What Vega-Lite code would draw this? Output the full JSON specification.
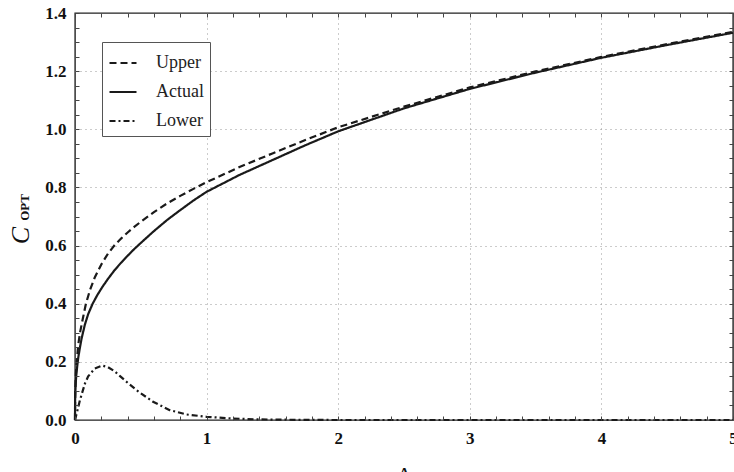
{
  "$schema": "https://vega.github.io/schema/vega-lite/v6.json",
  "width": 658,
  "height": 407,
  "autosize": {"type": "none"},
  "padding": {"left": 75, "top": 13, "right": 1, "bottom": 52},
  "background": "white",
  "config": {"view": {"stroke": "#222", "strokeWidth": 1.4}, "font": "Liberation Serif"},
  "data": {"values": [
    {"lam": 0, "c": 0, "series": "Upper"},
    {"lam": 0.001, "c": 0.07, "series": "Upper"},
    {"lam": 0.003, "c": 0.11, "series": "Upper"},
    {"lam": 0.007, "c": 0.16, "series": "Upper"},
    {"lam": 0.013, "c": 0.20, "series": "Upper"},
    {"lam": 0.025, "c": 0.26, "series": "Upper"},
    {"lam": 0.04, "c": 0.305, "series": "Upper"},
    {"lam": 0.06, "c": 0.35, "series": "Upper"},
    {"lam": 0.083, "c": 0.40, "series": "Upper"},
    {"lam": 0.114, "c": 0.447, "series": "Upper"},
    {"lam": 0.15, "c": 0.49, "series": "Upper"},
    {"lam": 0.2, "c": 0.535, "series": "Upper"},
    {"lam": 0.25, "c": 0.572, "series": "Upper"},
    {"lam": 0.3, "c": 0.601, "series": "Upper"},
    {"lam": 0.35, "c": 0.624, "series": "Upper"},
    {"lam": 0.4, "c": 0.645, "series": "Upper"},
    {"lam": 0.45, "c": 0.664, "series": "Upper"},
    {"lam": 0.5, "c": 0.682, "series": "Upper"},
    {"lam": 0.6, "c": 0.715, "series": "Upper"},
    {"lam": 0.7, "c": 0.745, "series": "Upper"},
    {"lam": 0.8, "c": 0.771, "series": "Upper"},
    {"lam": 0.9, "c": 0.795, "series": "Upper"},
    {"lam": 1, "c": 0.818, "series": "Upper"},
    {"lam": 1.25, "c": 0.87, "series": "Upper"},
    {"lam": 1.5, "c": 0.917, "series": "Upper"},
    {"lam": 1.75, "c": 0.963, "series": "Upper"},
    {"lam": 2, "c": 1.007, "series": "Upper"},
    {"lam": 2.5, "c": 1.078, "series": "Upper"},
    {"lam": 3, "c": 1.144, "series": "Upper"},
    {"lam": 3.5, "c": 1.199, "series": "Upper"},
    {"lam": 4, "c": 1.249, "series": "Upper"},
    {"lam": 4.5, "c": 1.293, "series": "Upper"},
    {"lam": 5, "c": 1.335, "series": "Upper"},
    {"lam": 0, "c": 0, "series": "Actual"},
    {"lam": 0.001, "c": 0.07, "series": "Actual"},
    {"lam": 0.003, "c": 0.10, "series": "Actual"},
    {"lam": 0.006, "c": 0.13, "series": "Actual"},
    {"lam": 0.01, "c": 0.155, "series": "Actual"},
    {"lam": 0.018, "c": 0.19, "series": "Actual"},
    {"lam": 0.025, "c": 0.215, "series": "Actual"},
    {"lam": 0.035, "c": 0.243, "series": "Actual"},
    {"lam": 0.05, "c": 0.28, "series": "Actual"},
    {"lam": 0.075, "c": 0.328, "series": "Actual"},
    {"lam": 0.1, "c": 0.364, "series": "Actual"},
    {"lam": 0.134, "c": 0.40, "series": "Actual"},
    {"lam": 0.17, "c": 0.43, "series": "Actual"},
    {"lam": 0.207, "c": 0.457, "series": "Actual"},
    {"lam": 0.25, "c": 0.485, "series": "Actual"},
    {"lam": 0.3, "c": 0.515, "series": "Actual"},
    {"lam": 0.35, "c": 0.541, "series": "Actual"},
    {"lam": 0.4, "c": 0.565, "series": "Actual"},
    {"lam": 0.45, "c": 0.588, "series": "Actual"},
    {"lam": 0.5, "c": 0.609, "series": "Actual"},
    {"lam": 0.6, "c": 0.65, "series": "Actual"},
    {"lam": 0.7, "c": 0.688, "series": "Actual"},
    {"lam": 0.8, "c": 0.722, "series": "Actual"},
    {"lam": 0.9, "c": 0.755, "series": "Actual"},
    {"lam": 1, "c": 0.785, "series": "Actual"},
    {"lam": 1.25, "c": 0.843, "series": "Actual"},
    {"lam": 1.5, "c": 0.894, "series": "Actual"},
    {"lam": 1.75, "c": 0.945, "series": "Actual"},
    {"lam": 2, "c": 0.993, "series": "Actual"},
    {"lam": 2.5, "c": 1.072, "series": "Actual"},
    {"lam": 3, "c": 1.139, "series": "Actual"},
    {"lam": 3.5, "c": 1.195, "series": "Actual"},
    {"lam": 4, "c": 1.246, "series": "Actual"},
    {"lam": 4.5, "c": 1.29, "series": "Actual"},
    {"lam": 5, "c": 1.332, "series": "Actual"},
    {"lam": 0, "c": 0, "series": "Lower"},
    {"lam": 0.013, "c": 0.023, "series": "Lower"},
    {"lam": 0.038, "c": 0.069, "series": "Lower"},
    {"lam": 0.076, "c": 0.126, "series": "Lower"},
    {"lam": 0.1, "c": 0.15, "series": "Lower"},
    {"lam": 0.15, "c": 0.177, "series": "Lower"},
    {"lam": 0.207, "c": 0.187, "series": "Lower"},
    {"lam": 0.25, "c": 0.182, "series": "Lower"},
    {"lam": 0.3, "c": 0.168, "series": "Lower"},
    {"lam": 0.34, "c": 0.152, "series": "Lower"},
    {"lam": 0.4, "c": 0.128, "series": "Lower"},
    {"lam": 0.467, "c": 0.103, "series": "Lower"},
    {"lam": 0.5, "c": 0.092, "series": "Lower"},
    {"lam": 0.593, "c": 0.063, "series": "Lower"},
    {"lam": 0.72, "c": 0.034, "series": "Lower"},
    {"lam": 0.846, "c": 0.019, "series": "Lower"},
    {"lam": 1, "c": 0.011, "series": "Lower"},
    {"lam": 1.2, "c": 0.005, "series": "Lower"},
    {"lam": 1.4, "c": 0.002, "series": "Lower"},
    {"lam": 1.7, "c": 0.0005, "series": "Lower"},
    {"lam": 2, "c": 0, "series": "Lower"},
    {"lam": 3, "c": 0, "series": "Lower"},
    {"lam": 4, "c": 0, "series": "Lower"},
    {"lam": 5, "c": 0, "series": "Lower"}
  ]},
  "layer": [
    {
      "mark": {"type": "point", "opacity": 0},
      "encoding": {
        "x": {
          "field": "lam", "type": "quantitative",
          "scale": {"domain": [0, 5], "nice": false},
          "axis": {
            "orient": "bottom", "values": [1, 2, 3, 4],
            "labels": false, "ticks": false, "domain": false, "title": null,
            "grid": true, "gridDash": [1, 4], "gridColor": "#999", "gridWidth": 1
          }
        },
        "y": {
          "field": "c", "type": "quantitative",
          "scale": {"domain": [0, 1.4], "nice": false},
          "axis": {
            "orient": "left", "values": [0.2, 0.4, 0.6, 0.8, 1, 1.2],
            "labels": false, "ticks": false, "domain": false, "title": null,
            "grid": true, "gridDash": [1, 4], "gridColor": "#999", "gridWidth": 1
          }
        }
      }
    },
    {
      "mark": {"type": "line", "color": "#1a1a1a", "strokeWidth": 2.2, "clip": false},
      "encoding": {
        "x": {
          "field": "lam", "type": "quantitative",
          "scale": {"domain": [0, 5], "nice": false},
          "axis": {
            "orient": "bottom", "offset": -4, "zindex": 2,
            "values": [0,0.2,0.4,0.6,0.8,1,1.2,1.4,1.6,1.8,2,2.2,2.4,2.6,2.8,3,3.2,3.4,3.6,3.8,4,4.2,4.4,4.6,4.8,5],
            "labelExpr": "datum.value % 1 === 0 ? format(datum.value, 'd') : ''",
            "labelFont": "Liberation Serif", "labelFontWeight": "bold", "labelFontSize": 17, "labelColor": "#111",
            "labelPadding": 10, "labelFlush": false, "labelOverlap": false, "labelBound": false,
            "ticks": true, "tickSize": 4, "tickColor": "#444", "tickWidth": 1,
            "domain": false, "grid": false,
            "title": "Λ", "titleFont": "Liberation Serif", "titleFontSize": 22, "titleFontWeight": "normal",
            "titleColor": "#111", "titlePadding": 18
          }
        },
        "y": {
          "field": "c", "type": "quantitative",
          "scale": {"domain": [0, 1.4], "nice": false},
          "axis": {
            "orient": "left", "offset": -4, "zindex": 2,
            "values": [0,0.05,0.1,0.15,0.2,0.25,0.3,0.35,0.4,0.45,0.5,0.55,0.6,0.65,0.7,0.75,0.8,0.85,0.9,0.95,1,1.05,1.1,1.15,1.2,1.25,1.3,1.35,1.4],
            "labelExpr": "abs(datum.value*5 - round(datum.value*5)) < 0.001 ? format(datum.value, '.1f') : ''",
            "labelFont": "Liberation Serif", "labelFontWeight": "bold", "labelFontSize": 17, "labelColor": "#111",
            "labelPadding": 9, "labelOverlap": false, "labelBound": false, "labelFlush": false,
            "ticks": true, "tickSize": 4, "tickColor": "#444", "tickWidth": 1,
            "domain": false, "grid": false,
            "title": "C", "titleFont": "Liberation Serif", "titleFontSize": 26, "titleFontStyle": "italic",
            "titleFontWeight": "normal", "titleColor": "#111",
            "titleAngle": 270, "titleAlign": "center", "titleBaseline": "alphabetic",
            "titleX": -51, "titleY": 222
          }
        },
        "strokeDash": {
          "field": "series", "type": "nominal",
          "scale": {"domain": ["Upper", "Actual", "Lower"], "range": [[7, 4], [1, 0], [6, 3, 2, 3]]},
          "legend": {
            "orient": "none", "legendX": 27, "legendY": 29, "title": null,
            "symbolType": "stroke", "symbolSize": 729, "symbolStrokeWidth": 2.2, "symbolStrokeColor": "#1a1a1a",
            "labelFont": "Liberation Serif", "labelFontSize": 18, "labelColor": "#222", "labelOffset": 18,
            "labelExpr": "datum.label + '\u00a0\u00a0\u00a0\u00a0\u00a0\u00a0'",
            "padding": 6, "rowPadding": 5,
            "strokeColor": "#555", "fillColor": "white"
          }
        }
      }
    },
    {
      "mark": {"type": "point", "opacity": 0},
      "encoding": {
        "x": {
          "field": "lam", "type": "quantitative",
          "scale": {"domain": [0, 5], "nice": false},
          "axis": {
            "orient": "top", "offset": -4, "zindex": 2,
            "values": [0,0.2,0.4,0.6,0.8,1,1.2,1.4,1.6,1.8,2,2.2,2.4,2.6,2.8,3,3.2,3.4,3.6,3.8,4,4.2,4.4,4.6,4.8,5],
            "labels": false, "domain": false, "grid": false, "title": null,
            "ticks": true, "tickSize": 4, "tickColor": "#444", "tickWidth": 1
          }
        },
        "y": {
          "field": "c", "type": "quantitative",
          "scale": {"domain": [0, 1.4], "nice": false},
          "axis": {
            "orient": "right", "offset": -4, "zindex": 2,
            "values": [0,0.05,0.1,0.15,0.2,0.25,0.3,0.35,0.4,0.45,0.5,0.55,0.6,0.65,0.7,0.75,0.8,0.85,0.9,0.95,1,1.05,1.1,1.15,1.2,1.25,1.3,1.35,1.4],
            "labels": false, "domain": false, "grid": false,
            "ticks": true, "tickSize": 4, "tickColor": "#444", "tickWidth": 1,
            "title": "OPT", "titleFont": "Liberation Serif", "titleFontSize": 13, "titleFontWeight": "bold",
            "titleColor": "#111", "titleAngle": 270, "titleAlign": "center", "titleBaseline": "alphabetic",
            "titleX": -701, "titleY": 194
          }
        }
      }
    }
  ],
  "resolve": {"scale": {"x": "independent", "y": "independent"}}
}
